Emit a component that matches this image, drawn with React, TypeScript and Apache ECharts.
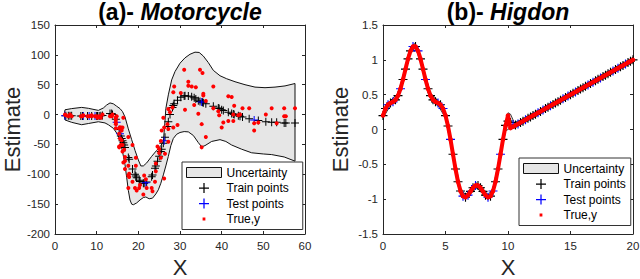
import React, { useEffect, useRef } from 'react';
import * as echarts from 'echarts';

// ---------- (a) Motorcycle ----------
const motoTimes = [2.4,2.6,3.2,3.6,4.0,6.2,6.6,6.8,7.8,8.2,8.8,8.8,9.6,10.0,10.2,10.6,11.0,11.4,13.2,13.6,13.8,14.6,14.6,14.6,14.6,14.6,14.6,14.8,15.4,15.4,15.4,15.4,15.6,15.6,15.8,15.8,16.0,16.0,16.2,16.2,16.2,16.4,16.4,16.6,16.8,16.8,16.8,17.6,17.6,17.6,17.6,17.8,17.8,18.6,18.6,19.2,19.4,19.4,19.6,20.2,20.4,21.2,21.4,21.8,22.0,23.2,23.4,24.0,24.2,24.2,24.6,25.0,25.0,25.4,25.4,25.6,26.0,26.2,26.2,26.4,27.0,27.2,27.2,27.2,27.6,28.2,28.4,28.4,28.6,29.4,30.2,31.0,31.2,32.0,32.0,32.8,33.4,33.8,34.4,34.8,35.2,35.2,35.4,35.6,35.6,36.2,36.2,38.0,38.0,39.2,39.4,40.0,40.4,41.6,41.6,42.4,42.8,42.8,43.0,44.0,44.4,45.0,46.6,47.8,47.8,48.8,50.6,52.0,53.2,55.0,55.0,55.4,57.6];
const motoAccel = [0.0,-1.3,-2.7,0.0,-2.7,-2.7,-2.7,-1.3,-2.7,-2.7,-1.3,-2.7,-2.7,-2.7,-5.4,-2.7,-5.4,0.0,-2.7,-2.7,0.0,-13.3,-5.4,-5.4,-9.3,-16.0,-22.8,-2.7,-22.8,-32.1,-53.5,-54.9,-40.2,-21.5,-21.5,-50.8,-42.9,-26.8,-21.5,-50.8,-61.7,-5.4,-80.4,-59.0,-71.0,-91.1,-77.7,-37.5,-85.6,-123.1,-101.9,-99.1,-104.4,-112.5,-50.8,-123.1,-85.6,-72.3,-127.2,-123.1,-117.9,-134.0,-101.9,-108.4,-123.1,-123.1,-128.5,-112.5,-95.1,-81.8,-53.5,-64.4,-57.6,-72.3,-44.3,-26.8,-5.4,-107.1,-21.5,-65.6,-16.0,-45.6,-24.2,9.5,4.0,12.0,-21.5,37.5,46.9,-17.4,36.2,75.0,8.1,54.9,48.2,46.9,16.0,45.6,1.3,75.0,-16.0,-54.9,69.6,34.8,32.1,-37.5,22.8,46.9,10.7,5.4,-1.3,-21.5,-13.3,30.8,-10.7,29.4,0.0,-10.7,14.7,-1.3,0.0,10.7,10.7,-26.8,-14.7,-13.3,0.0,10.7,-14.7,-2.7,10.7,-2.7,10.7];

const motoTrainX = [2.6,3.2,3.6,4.0,6.2,6.6,7.8,8.8,10.0,10.2,10.6,11.0,11.4,13.2,13.6,13.8,14.6,15.4,15.8,16.0,16.2,16.4,16.6,16.8,17.6,17.8,18.6,19.2,19.4,19.6,20.2,20.4,21.2,21.4,22.0,23.2,23.4,24.0,24.2,24.6,25.0,25.4,25.6,26.0,26.4,27.0,27.2,27.6,28.2,28.4,28.6,29.4,30.2,31.0,31.2,32.0,32.8,33.4,33.8,34.4,34.8,35.4,35.6,36.2,38.0,39.2,39.4,40.0,40.4,41.6,42.4,42.8,43.0,44.0,44.4,45.0,46.6,48.8,50.6,52.0,53.2,55.0,55.4,57.6];
const motoTrainY = [-2,-2,-2,-2,-2.5,-2.5,-2.5,-2.5,-2.5,-2.5,-2.5,-2,-1.5,2,2,0,-8,-25,-36,-40,-44,-47,-51,-55,-72,-75,-91,-100,-103,-106,-110,-112,-115,-115,-113,-104,-101,-90,-86,-78,-70,-62,-58,-48,-38,-20,-12,0,12,15,18,24,29,31,31.5,31,30,28,26,23,22,20.5,20,18,14,11,10,8,7,4,2,1,0,-2,-3,-4,-7,-10,-12,-13,-13,-14,-14,-14];
const motoTestX = [2.4,6.8,8.2,9.6,14.8,15.6,21.8,26.2,35.2,47.8];
const motoTestY = [-2,-2.5,-2.5,-2.5,-13,-32,-114,-44,21,-9];

const motoUpperX = [2.2,2.4,4,6.4,8,10.4,11.6,12.4,13.2,14,14.8,15.6,16.2,16.8,17.6,18.4,19.2,20,20.6,21.2,22,23.2,24.4,25.4,26,26.3,26.6,27.2,28,28.8,30,31.2,32.4,33.6,34.6,35.6,36.8,38,39.6,41.2,43.2,45.6,48,50.4,52.8,55.2,57.6];
const motoUpperY = [-0.5,8,10,12,10.5,7,11,16,19.5,18,14,10,5,-4,-24,-42,-60,-76,-86,-86,-81,-70,-60,-52,-45,-20,10,33,58,72,86,95,101,104.5,104,98,87,74,65,60,55,50,46,45,46,48,52];
const motoLowerX = [2.4,4,6.4,8,10.4,12,12.8,14,15,15.6,16.2,16.8,17.2,17.6,18,18.4,18.8,19.6,20.4,21.2,21.8,22.6,23.4,24.2,24.8,25.4,26,26.6,27.2,27.8,28.4,29.2,30,31,32,33.2,34.4,35.2,36,37.6,39.6,41,42.4,44.8,47.2,50,52,55,57.6];
const motoLowerY = [-9,-13,-17,-15,-12,-14,-17,-23,-33,-43,-62,-84,-105,-127,-143,-150,-151,-148,-143,-139,-138,-141,-140,-133,-126,-115,-101,-86,-70,-52,-40,-33,-30,-28.5,-29,-35,-47,-54,-52,-45,-42,-45,-51,-58,-64,-66,-67,-71,-78];

// ---------- (b) Higdon ----------
const higdonX = [0,0.2,0.4,0.6,0.8,1,1.2,1.4,1.6,1.8,2,2.2,2.4,2.6,2.8,3,3.2,3.4,3.6,3.8,4,4.2,4.4,4.6,4.8,5,5.2,5.4,5.6,5.8,6,6.2,6.4,6.6,6.8,7,7.2,7.4,7.6,7.8,8,8.2,8.4,8.6,8.8,9,9.2,9.4,9.6,9.8,10,10.2,10.4,10.6,10.8,11,11.2,11.4,11.6,11.8,12,12.2,12.4,12.6,12.8,13,13.2,13.4,13.6,13.8,14,14.2,14.4,14.6,14.8,15,15.2,15.4,15.6,15.8,16,16.2,16.4,16.6,16.8,17,17.2,17.4,17.6,17.8,18,18.2,18.4,18.6,18.8,19,19.2,19.4,19.6,19.8,20];
const higdonTrue = [0.2,0.301,0.356,0.381,0.397,0.426,0.486,0.585,0.717,0.867,1.013,1.128,1.192,1.192,1.128,1.013,0.867,0.717,0.585,0.486,0.426,0.397,0.381,0.356,0.301,0.2,0.05,-0.142,-0.356,-0.567,-0.75,-0.883,-0.957,-0.972,-0.942,-0.889,-0.837,-0.804,-0.804,-0.837,-0.889,-0.942,-0.972,-0.957,-0.883,-0.75,-0.567,-0.356,-0.142,0.05,0.2,0.02,0.04,0.06,0.08,0.1,0.12,0.14,0.16,0.18,0.2,0.22,0.24,0.26,0.28,0.3,0.32,0.34,0.36,0.38,0.4,0.42,0.44,0.46,0.48,0.5,0.52,0.54,0.56,0.58,0.6,0.62,0.64,0.66,0.68,0.7,0.72,0.74,0.76,0.78,0.8,0.82,0.84,0.86,0.88,0.9,0.92,0.94,0.96,0.98,1];
const higdonMean = [0.2,0.301,0.356,0.381,0.397,0.426,0.486,0.585,0.717,0.867,1.013,1.128,1.192,1.192,1.128,1.013,0.867,0.717,0.585,0.486,0.426,0.397,0.381,0.356,0.301,0.2,0.05,-0.142,-0.356,-0.567,-0.75,-0.883,-0.957,-0.972,-0.942,-0.889,-0.837,-0.804,-0.804,-0.837,-0.889,-0.942,-0.972,-0.957,-0.883,-0.75,-0.567,-0.356,-0.142,0.06,0.12,0.1,0.07,0.065,0.08,0.1,0.12,0.14,0.16,0.18,0.2,0.22,0.24,0.26,0.28,0.3,0.32,0.34,0.36,0.38,0.4,0.42,0.44,0.46,0.48,0.5,0.52,0.54,0.56,0.58,0.6,0.62,0.64,0.66,0.68,0.7,0.72,0.74,0.76,0.78,0.8,0.82,0.84,0.86,0.88,0.9,0.92,0.94,0.96,0.98,1];
const higdonTestX = [0.4,0.8,1.4,2.4,2.8,3.4,4.4,4.8,5.4,6.4,6.8,7.4,8.4,8.8,9.4,10.4,10.8,11.4,12.4,12.8,13.4,14.4,14.8,15.4,16.4,16.8,17.4,18.4,18.8,19.4];

const higdonBandX = [0,0.6,1.2,1.8,2.2,2.5,2.8,3.2,3.8,4.4,5,5.6,6.2,6.6,7,7.5,8,8.4,8.8,9.4,9.8,10,10.2,10.5,11,12,14,16,18,20];
const higdonBandUpper = [0.235,0.416,0.521,0.902,1.163,1.235,1.163,0.902,0.521,0.416,0.235,-0.321,-0.848,-0.937,-0.854,-0.765,-0.854,-0.937,-0.848,-0.321,0.09,0.24,0.22,0.1,0.135,0.235,0.435,0.635,0.835,1.035];
const higdonBandLower = [0.165,0.346,0.451,0.832,1.093,1.165,1.093,0.832,0.451,0.346,0.165,-0.391,-0.918,-1.007,-0.924,-0.835,-0.924,-1.007,-0.918,-0.391,-0.02,0.0,0.03,0.02,0.065,0.165,0.365,0.565,0.765,0.965];

const FONT = "'Liberation Sans', Arial, Helvetica, sans-serif";
const AX = '#262626';
const plusPath = 'path://M7,0H9V7H16V9H9V16H7V9H0V7H7Z';
const dotPath = 'path://M0,0h0.02v0.02h-0.02zM10,10h0.02v0.02h-0.02zM3.6,3.6h2.8v2.8h-2.8z';

function bandSeries(xi: number, ux: number[], uy: number[], lx: number[], ly: number[], lw: number) {
  return {
    type: 'custom',
    name: 'Uncertainty',
    xAxisIndex: xi,
    yAxisIndex: xi,
    data: [[ux[0], uy[0]]],
    itemStyle: { color: '#e6e6e6', borderColor: '#000' },
    z: 1,
    renderItem: (_p: any, api: any) => {
      const pts: number[][] = [];
      for (let i = 0; i < ux.length; i++) pts.push(api.coord([ux[i], uy[i]]));
      for (let i = lx.length - 1; i >= 0; i--) pts.push(api.coord([lx[i], ly[i]]));
      return {
        type: 'polygon',
        shape: { points: pts },
        style: { fill: '#e6e6e6', stroke: '#111', lineWidth: lw },
      };
    },
  };
}

function xAxes(gi: number, max: number, interval: number, nameGap: number) {
  const common = {
    type: 'value', gridIndex: gi, min: 0, max, interval,
    axisLine: { show: true, onZero: false, lineStyle: { color: AX, width: 1 } },
    axisTick: { show: true, inside: true, length: 3, lineStyle: { color: AX } },
    splitLine: { show: false },
  };
  return [
    {
      ...common, position: 'bottom',
      axisLabel: { fontSize: 11.5, color: AX, margin: 6, fontFamily: FONT },
      name: 'X', nameLocation: 'middle', nameGap,
      nameTextStyle: { fontSize: 22, color: AX, fontFamily: FONT, lineHeight: 22 },
    },
    { ...common, position: 'top', axisLabel: { show: false } },
  ];
}

function yAxes(gi: number, min: number, max: number, interval: number, nameGap: number) {
  const common = {
    type: 'value', gridIndex: gi, min, max, interval,
    axisLine: { show: true, onZero: false, lineStyle: { color: AX, width: 1 } },
    axisTick: { show: true, inside: true, length: 3, lineStyle: { color: AX } },
    splitLine: { show: false },
  };
  return [
    {
      ...common, position: 'left',
      axisLabel: { fontSize: 11.5, color: AX, margin: 5, fontFamily: FONT },
      name: 'Estimate', nameLocation: 'middle', nameGap, nameRotate: 90,
      nameTextStyle: { fontSize: 22, color: AX, fontFamily: FONT, lineHeight: 22 },
    },
    { ...common, position: 'right', axisLabel: { show: false } },
  ];
}

function legendFor(left: number, top: number, padRight: number) {
  return {
    left, top, orient: 'vertical', selectedMode: false,
    itemWidth: 35, itemHeight: 10, itemGap: 2.5,
    padding: [4, padRight, 4, 4],
    backgroundColor: '#fff', borderColor: '#333', borderWidth: 1, borderRadius: 0,
    textStyle: { fontSize: 12, color: '#000', fontFamily: FONT, lineHeight: 13 },
    z: 10,
    data: [
      { name: 'Uncertainty', icon: 'rect', itemStyle: { color: '#e6e6e6', borderColor: '#111', borderWidth: 1 } },
      { name: 'Train points', icon: plusPath, itemStyle: { color: '#000' } },
      { name: 'Test points', icon: plusPath, itemStyle: { color: '#0000ff' } },
      { name: 'True,y', icon: dotPath, itemStyle: { color: '#ff0000' } },
    ],
  };
}

export default function App() {
  const ref = useRef<HTMLDivElement>(null);
  useEffect(() => {
    if (!ref.current) return;
    const chart = echarts.init(ref.current, undefined, { renderer: 'svg' });

    const motoTrain = motoTrainX.map((x, i) => [x, motoTrainY[i]]);
    const motoTest = motoTestX.map((x, i) => [x, motoTestY[i]]);
    const motoTrue = motoTimes.map((x, i) => [x, motoAccel[i]]);

    const isTest = (x: number) => higdonTestX.indexOf(x) >= 0;
    const hTrain: number[][] = [];
    const hTest: number[][] = [];
    higdonX.forEach((x, i) => {
      if (isTest(x)) hTest.push([x, higdonMean[i]]);
      else hTrain.push([x, higdonMean[i]]);
    });
    const hTrue = higdonX.map((x, i) => [x, higdonTrue[i]]);

    const scatter = (name: string, xi: number, data: number[][], symbol: string, size: number, color: string, z: number) => ({
      type: 'scatter', name, xAxisIndex: xi, yAxisIndex: xi, data, symbol, symbolSize: size,
      itemStyle: { color, opacity: 1 }, z, silent: true,
    });

    const titleRich = {
      a: { fontSize: 23, fontWeight: 'bold', color: '#000', fontFamily: FONT },
      b: { fontSize: 23, fontWeight: 'bold', fontStyle: 'italic', color: '#000', fontFamily: FONT },
    };

    chart.setOption({
      animation: false,
      backgroundColor: '#fff',
      title: [
        {
          left: 180, top: 0, textAlign: 'center', padding: 0,
          text: '{a|(a)- }{b|Motorcycle}',
          textStyle: { fontFamily: FONT, rich: titleRich },
        },
        {
          left: 508, top: 0, textAlign: 'center', padding: 0,
          text: '{a|(b)- }{b|Higdon}',
          textStyle: { fontFamily: FONT, rich: titleRich },
        },
      ],
      legend: [legendFor(182, 162, 14), legendFor(519, 158, 5)],
      grid: [
        { left: 55, top: 25, width: 250, height: 209, containLabel: false, outerBoundsMode: 'none' },
        { left: 383, top: 25, width: 250, height: 209, containLabel: false, outerBoundsMode: 'none' },
      ],
      xAxis: [...xAxes(0, 60, 10, 22), ...xAxes(1, 20, 5, 22)],
      yAxis: [...yAxes(0, -200, 150, 50, 32), ...yAxes(1, -1.5, 1.5, 0.5, 32)],
      series: [
        bandSeries(0, motoUpperX, motoUpperY, motoLowerX, motoLowerY, 1),
        scatter('Train points', 0, motoTrain, plusPath, 8, '#000', 3),
        scatter('Test points', 0, motoTest, plusPath, 8, '#0000ff', 4),
        scatter('True,y', 0, motoTrue, 'circle', 4, '#ff0000', 5),

        bandSeries(2, higdonBandX, higdonBandUpper, higdonBandX, higdonBandLower, 0.8),
        scatter('Train points', 2, hTrain, plusPath, 9, '#000', 3),
        scatter('Test points', 2, hTest, plusPath, 9, '#0000ff', 4),
        {
          type: 'line', name: 'True line', xAxisIndex: 2, yAxisIndex: 2, data: hTrue,
          symbol: 'none', lineStyle: { color: '#ff0000', width: 4 }, z: 5, silent: true,
        },
        scatter('True,y', 2, hTrue, 'circle', 4.5, '#ff0000', 6),
      ],
    });
    return () => chart.dispose();
  }, []);
  return <div ref={ref} style={{ position: 'absolute', left: 0, top: 0, width: 640, height: 279 }} />;
}
